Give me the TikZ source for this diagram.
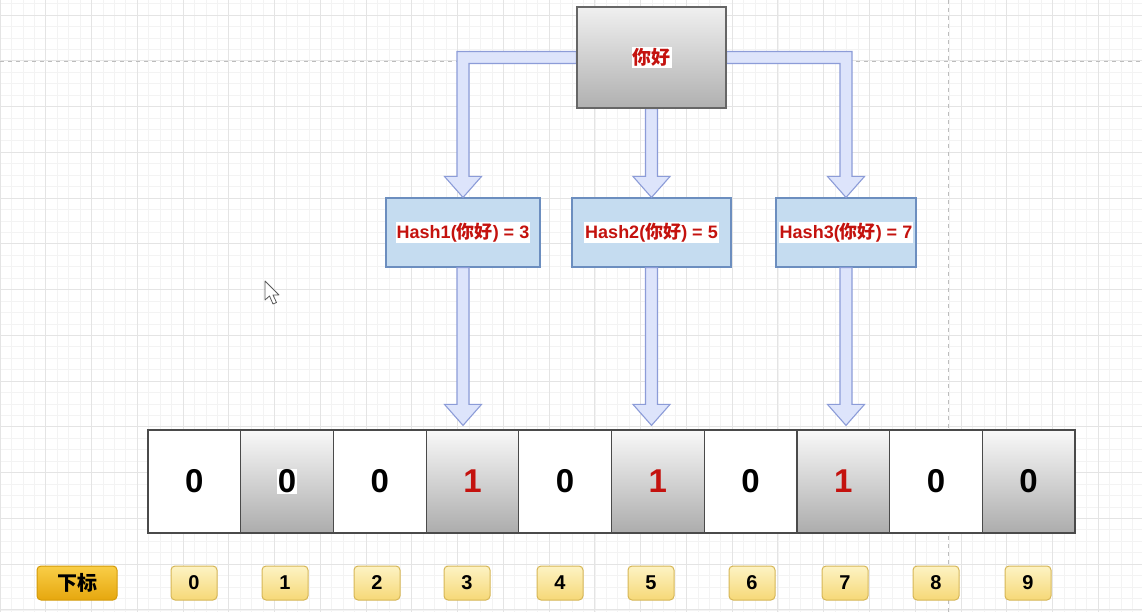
\documentclass[tikz,border=0pt]{standalone}
\usepackage{fontspec}
\setmainfont{Liberation Sans}
\newfontfamily\cjk{Noto Sans CJK SC}
\usetikzlibrary{calc}
\definecolor{gridminor}{HTML}{F3F3F3}
\definecolor{gridmajor}{HTML}{E4E4E4}
\definecolor{dashgrey}{HTML}{BDBDBD}
\definecolor{arrowfill}{HTML}{DDE4FB}
\definecolor{arrowdraw}{HTML}{8C9CD8}
\definecolor{hashfill}{HTML}{C5DCF0}
\definecolor{hashdraw}{HTML}{6C8EBF}
\definecolor{txtred}{HTML}{C4120E}
\definecolor{celldraw}{HTML}{4A4A4A}
\definecolor{idxdraw}{HTML}{D6B656}
\definecolor{idxtop}{HTML}{FDF3C4}
\definecolor{idxbot}{HTML}{F6D877}
\definecolor{keydraw}{HTML}{D49A08}
\definecolor{keytop}{HTML}{F9CE48}
\definecolor{keybot}{HTML}{E6A70E}
\setlength{\fboxsep}{1pt}
\newcommand\hl[1]{\colorbox{white}{#1}}
\newcommand\varrow[3]{%
  \draw[barrow] ($(#1)+(-6,0)$) -- ($(#2)+(-6,-21-#3)$) -- ($(#2)+(-18.5,-21-#3)$)
    -- ($(#2)+(0,-#3)$) -- ($(#2)+(18.5,-21-#3)$) -- ($(#2)+(6,-21-#3)$)
    -- ($(#1)+(6,0)$) -- cycle;}
\begin{document}
\begin{tikzpicture}[x=1pt,y=-1pt,
  barrow/.style={fill=arrowfill,draw=arrowdraw,line width=1.1pt,line join=miter},
  topbox/.style={draw=gray!80!black,line width=1.2pt,top color=gray!12,bottom color=gray!62,
    minimum width=149pt,minimum height=101pt,inner sep=0pt,
    font=\fontsize{19}{21}\selectfont\bfseries\color{txtred}},
  hashbox/.style={draw=hashdraw,line width=1.1pt,fill=hashfill,minimum height=69pt,inner sep=0pt,
    font=\fontsize{18}{20}\selectfont\bfseries\color{txtred}},
  cellw/.style={draw=celldraw,line width=1.2pt,fill=white,minimum width=92.7pt,minimum height=103pt,
    inner sep=0pt,font=\fontsize{33}{35}\selectfont\bfseries},
  cellg/.style={cellw,top color=gray!5,bottom color=gray!65},
  idx/.style={draw=idxdraw,line width=1pt,rounded corners=4pt,top color=idxtop,bottom color=idxbot,
    minimum width=46pt,minimum height=34pt,inner sep=0pt,font=\fontsize{20}{22}\selectfont\bfseries},
  key/.style={idx,draw=keydraw,top color=keytop,bottom color=keybot,minimum width=80pt}
]
\useasboundingbox (0,0) rectangle (1142,612);
\fill[white] (0,0) rectangle (1142,612);
\begin{scope}
\clip (0,0) rectangle (1142,612);
\foreach \i in {0,...,100} \draw[gridminor,line width=0.7pt] (\i*11.44,0) -- (\i*11.44,612);
\foreach \i in {-2,...,55} \draw[gridminor,line width=0.7pt] (0,15+\i*11.44) -- (1142,15+\i*11.44);
\foreach \i in {0,...,25} \draw[gridmajor,line width=0.9pt] (\i*45.76,0) -- (\i*45.76,612);
\foreach \i in {-1,...,14} \draw[gridmajor,line width=0.9pt] (0,15+\i*45.76) -- (1142,15+\i*45.76);
\draw[dashgrey,line width=1pt,dash pattern=on 4pt off 4pt] (0,62) -- (1142,62);
\draw[dashgrey,line width=1pt,dash pattern=on 4pt off 4pt] (948,0) -- (948,612);
\end{scope}

% nodes
\node[topbox] (top) at (651.5,57.5) {\hl{\cjk 你好}};
\node[hashbox,minimum width=154pt] (h1) at (463,232.5) {\hl{Hash1({\cjk 你好}) = 3}};
\node[hashbox,minimum width=159pt] (h2) at (651.5,232.5) {\hl{Hash2({\cjk 你好}) = 5}};
\node[hashbox,minimum width=140pt] (h3) at (846,232.5) {\hl{Hash3({\cjk 你好}) = 7}};

% cells
\node[cellw] (c0) at (194.35,481.5) {0};
\node[cellg] (c1) at (287.05,481.5) {\hl{0}};
\node[cellw] (c2) at (379.75,481.5) {0};
\node[cellg] (c3) at (472.45,481.5) {\color{txtred}1};
\node[cellw] (c4) at (565.15,481.5) {0};
\node[cellg] (c5) at (657.85,481.5) {\color{txtred}1};
\node[cellw] (c6) at (750.55,481.5) {0};
\node[cellg] (c7) at (843.25,481.5) {\color{txtred}1};
\node[cellw] (c8) at (935.95,481.5) {0};
\node[cellg] (c9) at (1028.65,481.5) {0};

% index labels
\node[key] (k) at (77,583) {\cjk 下标};
\node[idx] (i0) at (194,583) {0};
\node[idx] (i1) at (285,583) {1};
\node[idx] (i2) at (377,583) {2};
\node[idx] (i3) at (467,583) {3};
\node[idx] (i4) at (560,583) {4};
\node[idx] (i5) at (651,583) {5};
\node[idx] (i6) at (752,583) {6};
\node[idx] (i7) at (845,583) {7};
\node[idx] (i8) at (936,583) {8};
\node[idx] (i9) at (1028,583) {9};

% block arrows top -> hash
\draw[barrow] ($(top.west)+(0,-6)$) -- ($(h1.north |- top.west)+(-6,-6)$) -- ($(h1.north)+(-6,-21)$)
  -- ($(h1.north)+(-18.5,-21)$) -- (h1.north) -- ($(h1.north)+(18.5,-21)$) -- ($(h1.north)+(6,-21)$)
  -- ($(h1.north |- top.west)+(6,6)$) -- ($(top.west)+(0,6)$) -- cycle;
\draw[barrow] ($(top.east)+(0,-6)$) -- ($(h3.north |- top.east)+(6,-6)$) -- ($(h3.north)+(6,-21)$)
  -- ($(h3.north)+(18.5,-21)$) -- (h3.north) -- ($(h3.north)+(-18.5,-21)$) -- ($(h3.north)+(-6,-21)$)
  -- ($(h3.north |- top.east)+(-6,6)$) -- ($(top.east)+(0,6)$) -- cycle;
\varrow{h2.north |- top.south}{h2.north}{0}
% hash -> cells
\varrow{h1.south}{h1.south |- c3.north}{4}
\varrow{h2.south}{h2.south |- c5.north}{4}
\varrow{h3.south}{h3.south |- c7.north}{4}

% redraw box over arrow ends
\node[topbox] at (top) {\hl{\cjk 你好}};

% mouse cursor
\draw[fill=white,draw=gray!70!black,line width=0.8pt,line join=round]
  (265,281) -- (265,300) -- (269.5,296) -- (273,304) -- (276.5,302.5) -- (273,295) -- (279,295) -- cycle;
\end{tikzpicture}
\end{document}
